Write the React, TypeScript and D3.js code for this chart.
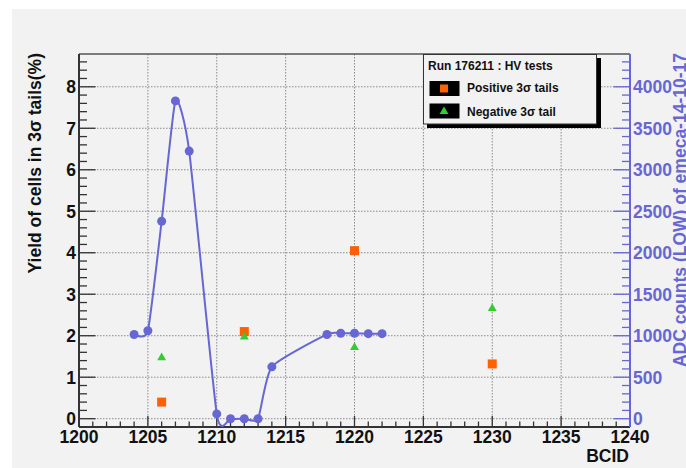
import React from 'react';
import * as d3 from 'd3';

// ADC counts (right axis) per BCID, drawn as a smooth curve
const adcBcid = [1204, 1205, 1206, 1207, 1208, 1210, 1211, 1212, 1213, 1214, 1218, 1219, 1220, 1221, 1222];
const adcCounts = [1015, 1060, 2380, 3830, 3225, 58, 0, 0, 0, 625, 1015, 1030, 1030, 1025, 1025];

// yield of cells in 3 sigma tails (%)
const tailBcid = [1206, 1212, 1220, 1230];
const positiveTails = [0.4, 2.1, 4.05, 1.32];
const negativeTails = [1.47, 1.97, 1.72, 2.66];

const xTicks = [1200, 1205, 1210, 1215, 1220, 1225, 1230, 1235, 1240];
const yLeftTicks = [0, 1, 2, 3, 4, 5, 6, 7, 8];
const yRightTicks = [0, 500, 1000, 1500, 2000, 2500, 3000, 3500, 4000];

const legendTitle = 'Run 176211 : HV tests';
const legendLabels = ['Positive 3\u03c3 tails', 'Negative 3\u03c3 tail'];

const BLUE = '#6666d4';
const ORANGE = '#ff6000';
const GREEN = '#33cc33';
const FONT = '"Liberation Sans", Arial, sans-serif';

export default function App() {
  const margin = { left: 79, right: 630, top: 54, bottom: 427 };

  const x = d3.scaleLinear().domain([1200, 1240]).range([margin.left, margin.right]);
  const yL = d3.scaleLinear().domain([-0.2, 8.79]).range([margin.bottom, margin.top]);
  const yR = d3.scaleLinear().domain([-100, 4395]).range([margin.bottom, margin.top]);

  const xMinor = d3.range(1201, 1240).filter((v) => v % 5 !== 0);
  const yLMinor = d3.range(1, 44).map((v) => v * 0.2).filter((v) => Math.abs(v - Math.round(v)) > 0.01);
  const yRMinor = d3.range(1, 44).map((v) => v * 100).filter((v) => v % 500 !== 0);

  const adc = adcBcid.map((b, i) => [b, adcCounts[i]] as [number, number]);
  const curve = d3
    .line<[number, number]>()
    .x((d) => x(d[0]))
    .y((d) => yR(d[1]))
    .curve(d3.curveCardinal.tension(0.45));

  const tri = d3.symbol(d3.symbolTriangle, 34);

  const majLenY = 16.5;
  const minLenY = 8;
  const majLenX = 11;
  const minLenX = 5.5;

  return (
    <svg
      width={686}
      height={468}
      style={{ position: 'absolute', left: 0, top: 0 }}
      fontFamily={FONT}
      fontWeight="bold"
    >
      <rect x={0} y={0} width={686} height={468} fill="#ffffff" />
      <rect x={12} y={9} width={674} height={459} fill="#f2f2f2" />

      {/* grid */}
      <g stroke="#8a8a8a" strokeWidth={1} strokeDasharray="1.5,1.5">
        {xTicks.slice(1, -1).map((t) => (
          <line key={'gx' + t} x1={x(t)} x2={x(t)} y1={margin.top} y2={margin.bottom} />
        ))}
        {yLeftTicks.map((t) => (
          <line key={'gy' + t} x1={margin.left} x2={margin.right} y1={yL(t)} y2={yL(t)} />
        ))}
      </g>

      {/* frame top and bottom */}
      <line x1={margin.left} x2={margin.right} y1={margin.top} y2={margin.top} stroke="#555" strokeWidth={1.5} />
      <line x1={margin.left} x2={margin.right} y1={margin.bottom} y2={margin.bottom} stroke="#333" strokeWidth={2} />

      {/* x axis ticks */}
      <g stroke="#333" strokeWidth={1.3}>
        {xTicks.map((t) => (
          <line key={'xt' + t} x1={x(t)} x2={x(t)} y1={margin.bottom} y2={margin.bottom - majLenX} />
        ))}
        {xMinor.map((t) => (
          <line key={'xm' + t} x1={x(t)} x2={x(t)} y1={margin.bottom} y2={margin.bottom - minLenX} />
        ))}
      </g>
      {xTicks.map((t) => (
        <text key={'xl' + t} x={x(t)} y={443} fontSize={17.5} textAnchor="middle" fill="#111">
          {t}
        </text>
      ))}
      <text x={margin.right - 1} y={462} fontSize={17.5} textAnchor="end" fill="#111">
        BCID
      </text>

      {/* left axis */}
      <line x1={margin.left} x2={margin.left} y1={margin.top} y2={margin.bottom} stroke="#333" strokeWidth={2} />
      <g stroke="#333" strokeWidth={1.3}>
        {yLeftTicks.map((t) => (
          <line key={'lt' + t} x1={margin.left} x2={margin.left + majLenY} y1={yL(t)} y2={yL(t)} />
        ))}
        {yLMinor.map((t) => (
          <line key={'lm' + t} x1={margin.left} x2={margin.left + minLenY} y1={yL(t)} y2={yL(t)} />
        ))}
      </g>
      {yLeftTicks.map((t) => (
        <text key={'ll' + t} x={76} y={yL(t)} dy="0.36em" fontSize={17.5} textAnchor="end" fill="#111">
          {t}
        </text>
      ))}
      <text
        transform={`translate(41,${margin.top - 1}) rotate(-90)`}
        fontSize={17.5}
        textAnchor="end"
        fill="#111"
      >
        Yield of cells in 3σ tails(%)
      </text>

      {/* right axis */}
      <line x1={margin.right} x2={margin.right} y1={margin.top} y2={margin.bottom} stroke={BLUE} strokeWidth={2} />
      <g stroke={BLUE} strokeWidth={1.3}>
        {yRightTicks.map((t) => (
          <line key={'rt' + t} x1={margin.right} x2={margin.right - majLenY} y1={yR(t)} y2={yR(t)} />
        ))}
        {yRMinor.map((t) => (
          <line key={'rm' + t} x1={margin.right} x2={margin.right - minLenY} y1={yR(t)} y2={yR(t)} />
        ))}
      </g>
      {yRightTicks.map((t) => (
        <text key={'rl' + t} x={633} y={yR(t)} dy="0.36em" fontSize={17.5} fill={BLUE}>
          {t}
        </text>
      ))}
      <text
        transform={`translate(686,${margin.top - 1}) rotate(-90)`}
        fontSize={17.5}
        textAnchor="end"
        fill={BLUE}
      >
        ADC counts (LOW) of emeca-14-10-17
      </text>

      {/* ADC curve */}
      <path d={curve(adc) ?? ''} fill="none" stroke={BLUE} strokeWidth={2} />
      {adc.map((d, i) => (
        <circle key={'c' + i} cx={x(d[0])} cy={yR(d[1])} r={4.5} fill={BLUE} />
      ))}

      {/* tails */}
      {tailBcid.map((b, i) => (
        <rect
          key={'p' + i}
          x={x(b) - 4.5}
          y={yL(positiveTails[i]) - 4.5}
          width={9}
          height={9}
          fill={ORANGE}
        />
      ))}
      {tailBcid.map((b, i) => (
        <path
          key={'n' + i}
          transform={`translate(${x(b)},${yL(negativeTails[i])})`}
          d={tri() ?? ''}
          fill={GREEN}
        />
      ))}

      {/* legend */}
      <rect x={427} y={58} width={174} height={70} fill="#000" />
      <rect x={423.5} y={54.5} width={173} height={69.5} fill="#f2f2f2" stroke="#333" strokeWidth={1} />
      <text x={428} y={70} fontSize={12} fill="#111">
        {legendTitle}
      </text>
      <rect x={429.5} y={81} width={30} height={15} fill="#000" />
      <rect x={440} y={84.5} width={8} height={8} fill={ORANGE} />
      <rect x={429.5} y={103.5} width={30} height={15} fill="#000" />
      <path transform="translate(444,111.5)" d={tri() ?? ''} fill={GREEN} />
      <text x={467} y={92} fontSize={12} fill="#111">
        {legendLabels[0]}
      </text>
      <text x={467} y={115.5} fontSize={12} fill="#111">
        {legendLabels[1]}
      </text>
    </svg>
  );
}
